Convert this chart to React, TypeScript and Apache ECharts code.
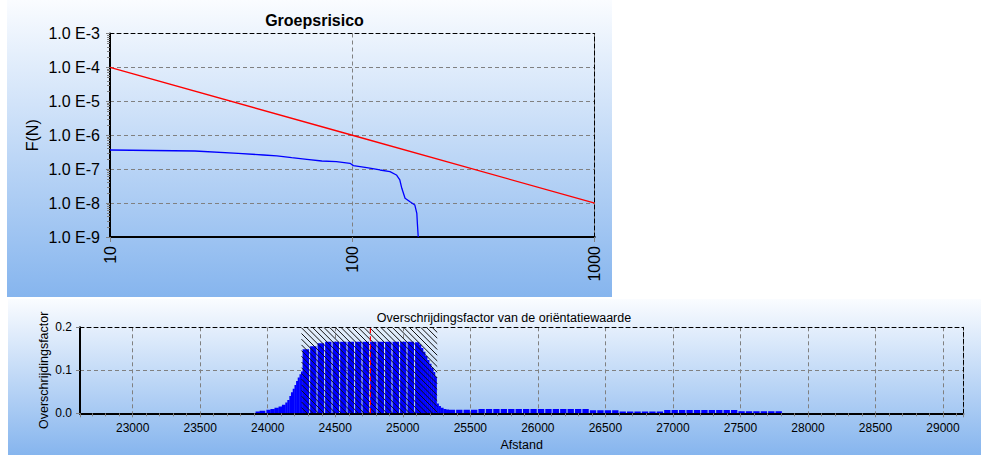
import React, { useEffect, useRef } from "react";
import * as echarts from "echarts";

// ---- Groepsrisico (FN-curve) ----
const fnDoden = [10, 22.4, 33.8, 43, 48.8, 56.2, 64.9, 74.8, 86, 97.8, 101, 114.6, 130, 143, 152, 157, 160, 165, 173, 181, 184.5, 185.5, 187];
const fnFrequentie = [3.67e-7, 3.43e-7, 2.94e-7, 2.62e-7, 2.45e-7, 2.18e-7, 1.95e-7, 1.74e-7, 1.66e-7, 1.49e-7, 1.27e-7, 1.11e-7, 9.46e-8, 8.43e-8, 6.74e-8, 4.8e-8, 2.73e-8, 1.39e-8, 1.1e-8, 8.8e-9, 5.0e-9, 2.5e-9, 1e-9];
const orientatieDoden = [10, 100, 1000];
const orientatieFrequentie = [1e-4, 1e-6, 1e-8];

// ---- Overschrijdingsfactor langs de route ----
// each bar runs from afstand[i] to the next afstand (the last one to eindAfstand)
const afstand = [
  23910, 23940, 23990, 24020, 24050, 24080, 24105, 24130, 24145, 24160, 24172, 24185, 24198, 24210, 24222, 24235, 24246,
  24258, 24314, 24369, 24425, 24480, 24536, 24591, 24647, 24702, 24758, 24813, 24869, 24924, 24980, 25035, 25091,
  25120, 25135, 25150, 25165, 25180, 25195, 25210, 25225, 25238, 25250, 25265, 25280, 25300, 25320,
  25340, 25395, 25450, 25505,
  25560, 25615, 25670, 25725, 25780, 25835, 25890, 25945, 26000, 26055, 26110, 26165, 26220, 26275, 26330,
  26385, 26440, 26495, 26550,
  26605, 26660, 26715, 26770, 26825, 26880,
  26935, 26990, 27045, 27100, 27155, 27210, 27265, 27320, 27375, 27430,
  27485, 27540, 27595, 27650, 27705, 27760,
];
const factor = [
  0.004, 0.006, 0.008, 0.010, 0.013, 0.016, 0.020, 0.025, 0.031, 0.040, 0.049, 0.057, 0.066, 0.075, 0.083, 0.091, 0.097,
  0.149, 0.156, 0.163, 0.1665, 0.1665, 0.1665, 0.1665, 0.1665, 0.1665, 0.1665, 0.1665, 0.1665, 0.1665, 0.1665, 0.1665, 0.165,
  0.160, 0.152, 0.143, 0.133, 0.124, 0.115, 0.106, 0.096, 0.085, 0.023, 0.017, 0.013, 0.010, 0.009,
  0.008, 0.008, 0.008, 0.008,
  0.010, 0.010, 0.010, 0.010, 0.010, 0.010, 0.010, 0.010, 0.010, 0.010, 0.010, 0.010, 0.010, 0.010, 0.010,
  0.007, 0.007, 0.007, 0.007,
  0.004, 0.004, 0.004, 0.004, 0.004, 0.004,
  0.0075, 0.0075, 0.0075, 0.0075, 0.0075, 0.0075, 0.0075, 0.0075, 0.0075, 0.0075,
  0.0045, 0.0045, 0.0045, 0.0045, 0.0045, 0.0045,
];
const eindAfstand = 27815;
// hatched zone and the marked location
const zone = [24250, 25255];
const markeerAfstand = 24760;
const afstandBereik = [22610, 29150];
const factorBereik = [0, 0.2];

const FONT = "Liberation Sans";

export default function App() {
  const ref = useRef<HTMLDivElement>(null);

  useEffect(() => {
    if (!ref.current) return;
    const chart = echarts.init(ref.current, undefined, { renderer: "svg" });

    const bars = afstand.map((a, i) => [a, i + 1 < afstand.length ? afstand[i + 1] : eindAfstand, factor[i]]);

    const grid = "#808080";
    const dash = [4, 3];

    const borderAxis = (gridIndex: number, position: string) => ({
      type: "value",
      gridIndex,
      position,
      min: 0,
      max: 1,
      axisLine: { show: true, onZero: false, lineStyle: { color: "#000", type: dash, width: 1 } },
      axisTick: { show: false },
      axisLabel: { show: false },
      splitLine: { show: false },
    });

    const option: any = {
      animation: false,
      title: [
        {
          text: "Groepsrisico",
          left: 309.5,
          top: 7,
          textAlign: "center",
          textStyle: { fontFamily: FONT, fontSize: 16, fontWeight: "bold", color: "#000" },
        },
        {
          text: "Overschrijdingsfactor van de oriëntatiewaarde",
          left: 499,
          top: 306,
          textAlign: "center",
          textStyle: { fontFamily: FONT, fontSize: 12.5, fontWeight: "normal", color: "#000" },
        },
      ],
      grid: [
        { left: 110, top: 33.5, right: 386.3, bottom: 218 },
        { left: 80, top: 327.3, right: 17.7, bottom: 41.7 },
      ],
      xAxis: [
        {
          type: "log",
          logBase: 10,
          gridIndex: 0,
          min: 10,
          max: 1000,
          position: "bottom",
          axisLine: { onZero: false, lineStyle: { color: "#000", width: 2 } },
          axisTick: { show: true, length: 5, lineStyle: { color: grid } },
          axisLabel: {
            rotate: 90,
            margin: 9,
            fontFamily: FONT,
            fontSize: 16,
            color: "#000",
            formatter: (v: number) => String(Math.round(v)),
          },
          splitLine: { show: true, lineStyle: { color: grid, type: dash } },
        },
        borderAxis(0, "top"),
        {
          type: "value",
          gridIndex: 1,
          min: afstandBereik[0],
          max: afstandBereik[1],
          splitNumber: 13,
          position: "bottom",
          name: "Afstand",
          nameLocation: "middle",
          nameGap: 25,
          nameMoveOverlap: false,
          nameTextStyle: { fontFamily: FONT, fontSize: 12.5, color: "#000" },
          axisLine: { onZero: false, lineStyle: { color: "#000", width: 2 } },
          axisTick: { show: true, length: 4, lineStyle: { color: grid } },
          minorTick: { show: true, splitNumber: 5, length: 3, lineStyle: { color: grid } },
          axisLabel: {
            margin: 9,
            fontFamily: FONT,
            fontSize: 12,
            color: "#000",
            showMinLabel: false,
            showMaxLabel: false,
            formatter: (v: number) => String(Math.round(v)),
          },
          splitLine: { show: true, lineStyle: { color: grid, type: dash } },
        },
        borderAxis(1, "top"),
      ],
      yAxis: [
        {
          type: "log",
          logBase: 10,
          gridIndex: 0,
          min: 1e-9,
          max: 1e-3,
          name: "F(N)",
          nameLocation: "middle",
          nameGap: 70,
          nameMoveOverlap: false,
          nameTextStyle: { fontFamily: FONT, fontSize: 16, color: "#000" },
          axisLine: { onZero: false, lineStyle: { color: "#000", width: 2 } },
          axisTick: { show: true, length: 4, lineStyle: { color: grid } },
          minorTick: { show: true, splitNumber: 9, length: 3, lineStyle: { color: grid } },
          axisLabel: {
            margin: 10,
            fontFamily: FONT,
            fontSize: 16,
            color: "#000",
            formatter: (v: number) => "1.0 E" + Math.round(Math.log10(v)),
          },
          splitLine: { show: true, lineStyle: { color: grid, type: dash } },
        },
        borderAxis(0, "right"),
        {
          type: "value",
          gridIndex: 1,
          min: factorBereik[0],
          max: factorBereik[1],
          interval: 0.1,
          name: "Overschrijdingsfactor",
          nameLocation: "middle",
          nameGap: 30,
          nameMoveOverlap: false,
          nameTextStyle: { fontFamily: FONT, fontSize: 12.5, color: "#000" },
          axisLine: { onZero: false, lineStyle: { color: "#000", width: 2 } },
          axisTick: { show: true, length: 4, lineStyle: { color: grid } },
          axisLabel: {
            margin: 8,
            fontFamily: FONT,
            fontSize: 12,
            color: "#000",
            formatter: (v: number) => v.toFixed(1),
          },
          splitLine: { show: true, lineStyle: { color: grid, type: dash } },
        },
        borderAxis(1, "right"),
      ],
      series: [
        {
          type: "line",
          name: "Orientatiewaarde",
          xAxisIndex: 0,
          yAxisIndex: 0,
          data: orientatieDoden.map((n, i) => [n, orientatieFrequentie[i]]),
          symbol: "none",
          lineStyle: { color: "#ff0000", width: 1.3 },
          z: 3,
        },
        {
          type: "line",
          name: "Groepsrisico",
          xAxisIndex: 0,
          yAxisIndex: 0,
          data: fnDoden.map((n, i) => [n, fnFrequentie[i]]),
          symbol: "none",
          lineStyle: { color: "#0000ff", width: 1.3 },
          z: 3,
        },
        {
          type: "custom",
          name: "Overschrijdingsfactor",
          xAxisIndex: 2,
          yAxisIndex: 2,
          clip: true,
          data: bars,
          encode: { x: [0, 1], y: 2 },
          renderItem: (_p: any, api: any) => {
            const p0 = api.coord([api.value(0), api.value(2)]);
            const p1 = api.coord([api.value(1), 0]);
            const w = p1[0] - p0[0];
            const gap = w > 5 ? 1.1 : -0.3;
            return {
              type: "rect",
              shape: { x: p0[0], y: p0[1], width: w - gap, height: p1[1] - p0[1] },
              style: { fill: "#0000ff" },
            };
          },
          z: 3,
        },
        {
          type: "custom",
          name: "Zone",
          xAxisIndex: 2,
          yAxisIndex: 2,
          clip: true,
          data: [[zone[0], zone[1]]],
          encode: { x: [0, 1] },
          renderItem: (_p: any, api: any) => {
            const tl = api.coord([api.value(0), factorBereik[1]]);
            const br = api.coord([api.value(1), factorBereik[0]]);
            const L = tl[0], T = tl[1], R = br[0], B = br[1];
            const h = B - T;
            const step = 5.7;
            const children: any[] = [];
            for (let c = L - h; c < R; c += step) {
              let xa = c, ya = T, xb = c + h, yb = B;
              if (xa < L) { ya = T + (L - xa); xa = L; }
              if (xb > R) { yb = B - (xb - R); xb = R; }
              if (yb - ya < 0.5) continue;
              children.push({
                type: "line",
                shape: { x1: xa, y1: ya, x2: xb, y2: yb },
                style: { stroke: "#111", lineWidth: 1 },
              });
            }
            return { type: "group", children };
          },
          z: 4,
        },
        {
          type: "line",
          name: "Markering",
          xAxisIndex: 2,
          yAxisIndex: 2,
          data: [[markeerAfstand, factorBereik[0]], [markeerAfstand, factorBereik[1]]],
          symbol: "none",
          lineStyle: { color: "#ff0000", width: 1.2, type: [5, 3] },
          z: 5,
        },
      ],
    };

    chart.setOption(option);
    return () => chart.dispose();
  }, []);

  const panel = (left: number, top: number, width: number, height: number): React.CSSProperties => ({
    position: "absolute",
    left,
    top,
    width,
    height,
    background: "linear-gradient(to bottom, #fafcff 0%, #86b5ee 100%)",
  });

  return (
    <div style={{ position: "absolute", left: 0, top: 0, width: 981, height: 455, background: "#fff", overflow: "hidden" }}>
      <div style={panel(7, 0, 605, 297)} />
      <div style={panel(8, 299, 973, 156)} />
      <div ref={ref} style={{ position: "absolute", left: 0, top: 0, width: 981, height: 455 }} />
    </div>
  );
}
